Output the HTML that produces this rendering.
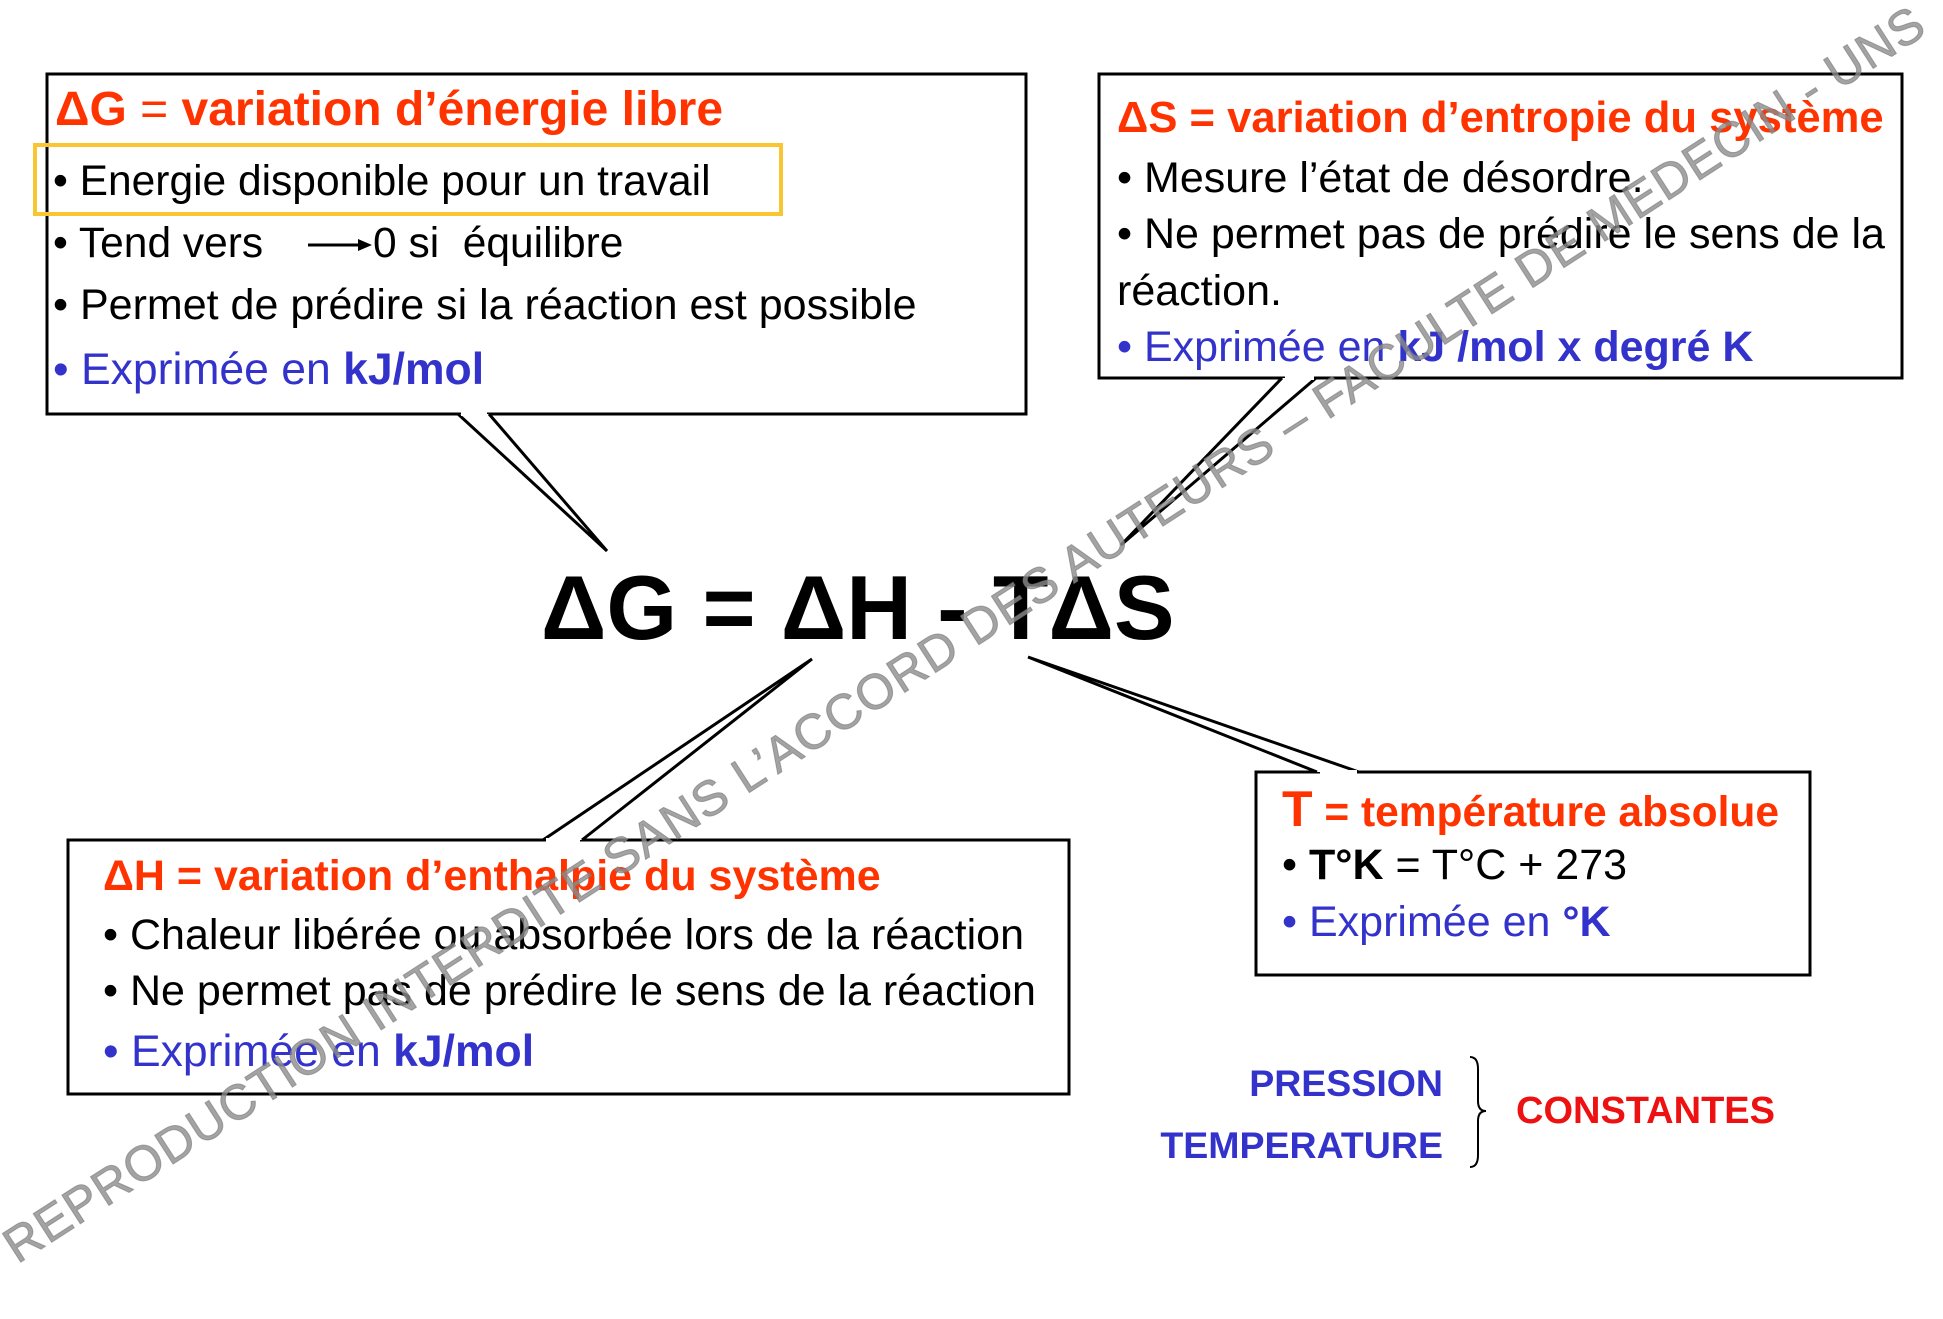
<!DOCTYPE html>
<html><head><meta charset="utf-8"><style>
body{margin:0;width:1943px;height:1319px;background:#fff;position:relative;overflow:hidden;font-family:"Liberation Sans",Arial,sans-serif}
.t{position:absolute;white-space:nowrap;line-height:1}
.r{color:#ff3300;font-weight:bold}
.b{color:#3333cc}
.k{color:#000}
</style></head><body>
<svg width="1943" height="1319" style="position:absolute;left:0;top:0">
<g fill="#fff" stroke="#000" stroke-width="3">
<rect x="47" y="74" width="979" height="340"/>
<rect x="1099" y="74" width="803" height="304"/>
<rect x="68" y="840" width="1001" height="254"/>
<rect x="1256" y="772" width="554" height="203"/>
</g>
<g fill="#fff" stroke="#000" stroke-width="3">
<polyline points="458,414 607,551 489,414"/>
<polyline points="1282,378 1121,545 1316,378"/>
<polyline points="543,840 812,659 582,840"/>
<polyline points="1317,772 1028,657 1359,772"/>
</g>
<g fill="#fff" stroke="none">
<rect x="461" y="411" width="26" height="5"/>
<rect x="1285" y="375" width="29" height="5"/>
<rect x="546" y="838" width="34" height="5"/>
<rect x="1320" y="770" width="37" height="5"/>
</g>
<rect x="35" y="145" width="746" height="69" fill="none" stroke="#f9c531" stroke-width="4"/>
<path d="M1470 1057 q8 0 8 12 v32 q0 10 8 10 q-8 0 -8 10 v34 q0 12 -8 12" fill="none" stroke="#000" stroke-width="2"/>
<line x1="308" y1="245" x2="360" y2="245" stroke="#000" stroke-width="3"/>
<polygon points="358,239 372,245 358,251" fill="#000"/>
</svg>

<div class="t r" style="left:55px;top:86px;font-size:48px">ΔG <span style="font-weight:normal">=</span> variation d’énergie libre</div>
<div class="t k" style="left:53px;top:161px;font-size:42.5px">• Energie disponible pour un travail</div>
<div class="t k" style="left:53px;top:223px;font-size:42.5px">• Tend vers</div>
<div class="t k" style="left:373px;top:223px;font-size:42.5px">0 si &nbsp;équilibre</div>
<div class="t k" style="left:53px;top:284px;font-size:43px">• Permet de prédire si la réaction est possible</div>
<div class="t b" style="left:53px;top:348px;font-size:44.5px">• Exprimée en <b>kJ/mol</b></div>

<div class="t r" style="left:1117px;top:97px;font-size:43.6px">ΔS = variation d’entropie du système</div>
<div class="t k" style="left:1117px;top:157px;font-size:43px">• Mesure l’état de désordre.</div>
<div class="t k" style="left:1117px;top:213px;font-size:43px">• Ne permet pas de prédire le sens de la</div>
<div class="t k" style="left:1117px;top:270px;font-size:43px">réaction.</div>
<div class="t b" style="left:1117px;top:326px;font-size:43px">• Exprimée en <b>kJ /mol x degré K</b></div>

<div class="t k" style="left:541px;top:563px;font-size:91px;font-weight:bold">ΔG = ΔH - TΔS</div>

<div class="t r" style="left:103px;top:855px;font-size:43px">ΔH = variation d’enthalpie du système</div>
<div class="t k" style="left:103px;top:914px;font-size:43px">• Chaleur libérée ou absorbée lors de la réaction</div>
<div class="t k" style="left:103px;top:970px;font-size:43px">• Ne permet pas de prédire le sens de la réaction</div>
<div class="t b" style="left:103px;top:1030px;font-size:44.5px">• Exprimée en <b>kJ/mol</b></div>

<div class="t r" style="left:1282px;top:784px;font-size:42.5px"><span style="font-size:50px">T</span> = température absolue</div>
<div class="t k" style="left:1282px;top:844px;font-size:43px">• <b>T°K</b> = T°C + 273</div>
<div class="t b" style="left:1282px;top:901px;font-size:43px">• Exprimée en <b>°K</b></div>

<div class="t b" style="right:500px;top:1065px;font-size:37.5px;font-weight:bold">PRESSION</div>
<div class="t b" style="right:500px;top:1127px;font-size:37.5px;font-weight:bold">TEMPERATURE</div>
<div class="t" style="left:1516px;top:1092px;font-size:38px;font-weight:bold;color:#ee1111">CONSTANTES</div>

<div class="t" style="left:22px;top:1222px;font-size:49.5px;color:rgba(140,140,140,0.8);-webkit-text-stroke:1px rgba(120,120,120,0.6);transform-origin:0 100%;transform:rotate(-32.8deg);letter-spacing:1px">REPRODUCTION INTERDITE SANS L’ACCORD DES AUTEURS – FACULTE DE MEDECIN - UNS</div>
</body></html>
